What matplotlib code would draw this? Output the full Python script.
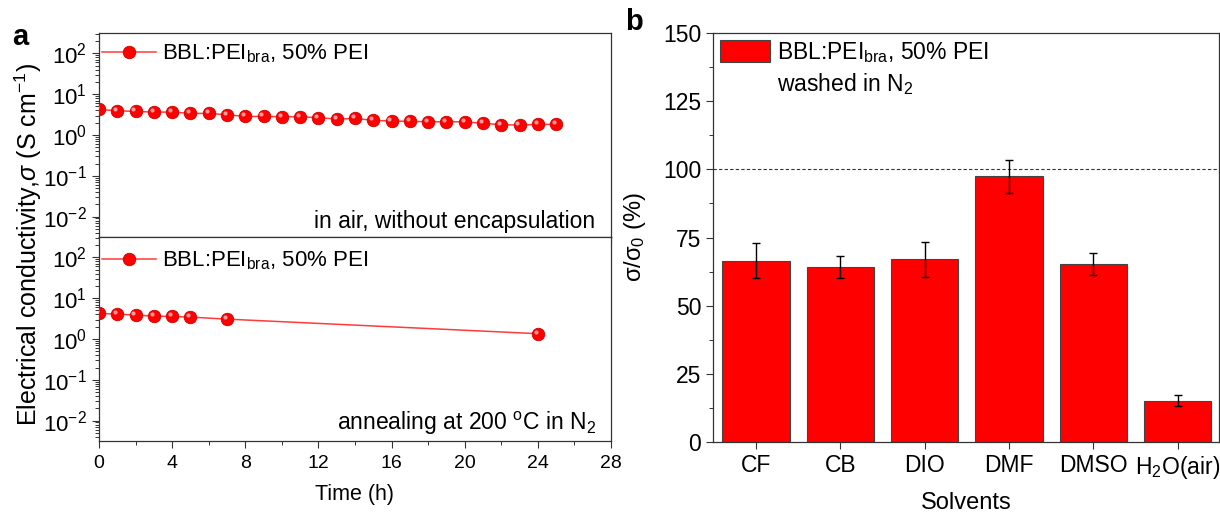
import numpy as np
import matplotlib
matplotlib.use("Agg")
import matplotlib.pyplot as plt
from matplotlib.ticker import MultipleLocator, LogLocator, NullFormatter, FixedLocator
from matplotlib.transforms import ScaledTranslation
from matplotlib.patches import Patch

plt.rcParams["font.family"] = ["Liberation Sans", "DejaVu Sans"]
plt.rcParams["mathtext.fontset"] = "custom"
plt.rcParams["mathtext.rm"] = "Liberation Sans"
plt.rcParams["mathtext.it"] = "Liberation Sans:italic"
plt.rcParams["mathtext.default"] = "regular"

# conductivity vs. time, stored in air (no encapsulation)
t_air = list(range(26))
sig_air = [4.23, 3.92, 3.78, 3.64, 3.64, 3.38, 3.38, 3.13, 2.85, 2.85, 2.80, 2.80, 2.65,
           2.46, 2.55, 2.28, 2.20, 2.16, 2.11, 2.11, 2.11, 1.93, 1.79, 1.75, 1.82, 1.82]
# conductivity vs. time, annealed at 200 C in N2
t_ann = [0, 1, 2, 3, 4, 5, 7, 24]
sig_ann = [4.23, 4.07, 3.85, 3.64, 3.57, 3.44, 3.07, 1.35]

# relative conductivity after solvent washing
solvents = ["CF", "CB", "DIO", "DMF", "DMSO", "H$_2$O(air)"]
rel_sigma = [66.5, 64.3, 67.0, 97.4, 65.2, 15.2]
rel_err = [6.5, 4.1, 6.3, 6.2, 4.0, 2.0]

RED = "#ff0000"
LINE = "#ff3b3b"
FS = 16.5
LEG = r"BBL:PEI$_{bra}$, 50% PEI"

fig = plt.figure(figsize=(12.2, 5.17), dpi=100)
ax_top = fig.add_axes([0.0811, 0.5416, 0.4197, 0.3946])
ax_bot = fig.add_axes([0.0811, 0.1470, 0.4197, 0.3946])
ax_b = fig.add_axes([0.5844, 0.1450, 0.4148, 0.7911])


def style_log(ax, t, s, note, leg_y):
    ax.plot(t, s, "-", color=LINE, lw=1.1, marker="o", ms=9, mfc=RED, mec="#d00000",
            mew=0.6, label=LEG, zorder=3)
    # small highlight on the spheres
    shift = ScaledTranslation(-1.5 / 72, 1.5 / 72, fig.dpi_scale_trans)
    ax.plot(t, s, "o", ms=3, mfc="#ff9a9a", mec="none", zorder=4,
            transform=ax.transData + shift)
    ax.set_yscale("log")
    ax.set_ylim(10 ** -2.5, 10 ** 2.5)
    ax.set_xlim(0, 28)
    ax.xaxis.set_major_locator(MultipleLocator(4))
    ax.xaxis.set_minor_locator(MultipleLocator(2))
    ax.yaxis.set_major_locator(FixedLocator([1e-2, 1e-1, 1e0, 1e1, 1e2]))
    ax.yaxis.set_minor_locator(LogLocator(base=10, subs=np.arange(2, 10) * 1.0, numticks=20))
    ax.yaxis.set_minor_formatter(NullFormatter())
    ax.tick_params(axis="both", which="major", direction="out", length=5, width=0.8,
                   labelsize=16, colors="#333", labelcolor="black")
    ax.tick_params(axis="both", which="minor", direction="out", length=3, width=0.7, colors="#333")
    for sp in ax.spines.values():
        sp.set_color("#333")
        sp.set_linewidth(0.9)
    ax.legend(loc="upper left", bbox_to_anchor=(0, leg_y), frameon=False, fontsize=16,
              handlelength=2.4, handletextpad=0.3, borderaxespad=0.05, borderpad=0.1)
    ax.text(0.97, 0.02, note, transform=ax.transAxes, ha="right", va="bottom", fontsize=FS)


style_log(ax_top, t_air, sig_air, "in air, without encapsulation", 0.97)
style_log(ax_bot, t_ann, sig_ann, r"annealing at 200 $^{o}$C in N$_2$", 0.955)
ax_top.tick_params(axis="x", labelbottom=False)
ax_bot.tick_params(axis="x", labelsize=14, pad=5)
ax_bot.set_xlabel("Time (h)", fontsize=15.5, labelpad=9)
fig.text(0.023, 0.528, r"Electrical conductivity,$\mathit{\sigma}$ (S cm$^{-1}$)",
         rotation=90, ha="center", va="center", fontsize=18)

# panel b: bars with error bars
x = np.arange(len(solvents))
ax_b.bar(x, rel_sigma, width=0.8, color=RED, edgecolor="#444", lw=0.8, zorder=2)
ax_b.errorbar(x, rel_sigma, yerr=rel_err, fmt="none", ecolor="black", elinewidth=1,
              capsize=3.2, capthick=1, zorder=3)
ax_b.axhline(100, color="#333", ls=(0, (3, 2)), lw=0.8, zorder=1)
ax_b.set_xlim(-0.51, 5.49)
ax_b.set_ylim(0, 150)
ax_b.set_xticks(x)
ax_b.set_xticklabels(solvents)
ax_b.yaxis.set_major_locator(MultipleLocator(25))
ax_b.yaxis.set_minor_locator(MultipleLocator(12.5))
ax_b.tick_params(axis="both", which="major", direction="out", length=5, width=0.8,
                 labelsize=FS, colors="#333", labelcolor="black")
ax_b.tick_params(axis="y", which="minor", direction="out", length=3, width=0.7, colors="#333")
for sp in ax_b.spines.values():
    sp.set_color("#333")
    sp.set_linewidth(0.9)
ax_b.set_xlabel("Solvents", fontsize=17, labelpad=8)
ax_b.set_ylabel(r"$\sigma$/$\sigma_0$ (%)", fontsize=17)
ax_b.yaxis.set_label_coords(-0.128, 0.5)
ax_b.legend(handles=[Patch(facecolor=RED, edgecolor="#444", lw=0.8, label=LEG)],
            loc="upper left", frameon=False, fontsize=16.5, handlelength=2.2,
            handleheight=1.1, handletextpad=0.3, borderaxespad=0.1, borderpad=0.2)
ax_b.text(0.126, 0.875, r"washed in N$_2$", transform=ax_b.transAxes, fontsize=FS,
          ha="left", va="center")

fig.text(0.0164, 0.928, "a", fontsize=21, fontweight="bold", ha="center", va="center")
fig.text(0.5197, 0.957, "b", fontsize=21, fontweight="bold", ha="center", va="center")

fig.savefig("out.png", dpi=100, facecolor="white")
